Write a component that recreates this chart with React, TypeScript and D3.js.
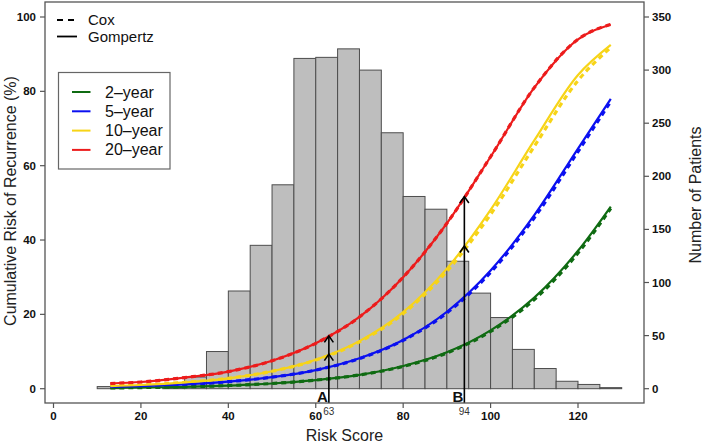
import React from "react";
import * as d3 from "d3";

// Histogram (bin start, width 5) and patient counts
const binStarts = [10, 15, 20, 25, 30, 35, 40, 45, 50, 55, 60, 65, 70, 75, 80, 85, 90, 95, 100, 105, 110, 115, 120, 125];
const binCounts = [2, 0, 0, 1, 11, 35, 92, 135, 192, 311, 312, 320, 300, 241, 181, 169, 120, 90, 67, 37, 19, 7, 4, 1];

// Risk score grid for curves
const scores = [13, 20, 30, 40, 50, 60, 70, 80, 90, 100, 110, 120, 127.5];

// Gompertz (solid) cumulative risk, %
const gomp2 = [0.2, 0.3, 0.5, 0.85, 1.4, 2.3, 3.7, 6.1, 9.8, 15.7, 24.5, 37.1, 49.0];
const gomp5 = [0.5, 0.7, 1.15, 1.9, 3.1, 5.0, 8.2, 13.1, 20.7, 31.8, 46.7, 64.6, 78.0];
const gomp10 = [0.7, 1.0, 1.7, 2.8, 4.7, 7.8, 12.8, 20.6, 32.3, 48.1, 66.8, 84.4, 92.5];
const gomp20 = [1.4, 1.8, 3.0, 4.6, 7.5, 12.2, 19.3, 30.0, 44.5, 62.4, 81.0, 94.0, 98.0];

// Cox (dashed) cumulative risk, %
const cox2 = [0.2, 0.3, 0.5, 0.85, 1.4, 2.3, 3.7, 6.0, 9.6, 15.4, 24.0, 36.5, 48.5];
const cox5 = [0.5, 0.7, 1.15, 1.9, 3.1, 5.0, 8.1, 13.0, 20.4, 31.3, 46.0, 63.8, 77.3];
const cox10 = [0.7, 1.0, 1.7, 2.8, 4.7, 7.7, 12.6, 20.2, 31.6, 46.9, 65.2, 82.9, 91.8];
const cox20 = [1.4, 1.8, 3.0, 4.6, 7.5, 12.2, 19.3, 30.0, 44.5, 62.4, 81.0, 94.0, 98.0];

const seriesNames = ["2–year", "5–year", "10–year", "20–year"];
const seriesColors = ["#0f6b12", "#0b10f0", "#f7d417", "#ec1c1c"];
const gompSeries = [gomp2, gomp5, gomp10, gomp20];
const coxSeries = [cox2, cox5, cox10, cox20];

// Marked scores A and B
const markLabels = ["A", "B"];
const markScores = [63, 94];
const markYellow = [9.3, 38.4];
const markRed = [14.2, 51.7];

const xTicks = [0, 20, 40, 60, 80, 100, 120];
const yLeftTicks = [0, 20, 40, 60, 80, 100];
const yRightTicks = [0, 50, 100, 150, 200, 250, 300, 350];

const FONT = "'Liberation Sans', Arial, Helvetica, sans-serif";

export default function App() {
  const W = 709;
  const H = 448;
  const box = { left: 45, right: 644, top: 2, bottom: 403 };

  const x = d3.scaleLinear().domain([0, 120]).range([53.5, 578]);
  const yL = d3.scaleLinear().domain([0, 100]).range([388.7, 17]);
  const yR = d3.scaleLinear().domain([0, 350]).range([388.7, 17]);

  const line = (vals: number[]) =>
    d3
      .line<number>()
      .x((_, i) => x(scores[i]))
      .y((d) => yL(d))
      .curve(d3.curveMonotoneX)(vals) || "";

  const axisColor = "#555";

  return (
    <svg
      width={W}
      height={H}
      style={{ position: "absolute", left: 0, top: 0, display: "block" }}
      fontFamily={FONT}
    >
      <rect x={0} y={0} width={W} height={H} fill="#fff" />

      {/* histogram */}
      {binStarts.map((b, i) => (
        <rect
          key={"bin" + i}
          x={x(b)}
          y={yR(binCounts[i])}
          width={x(b + 5) - x(b)}
          height={yR(0) - yR(binCounts[i])}
          fill="#bebebe"
          stroke="#4d4d4d"
          strokeWidth={1}
        />
      ))}

      {/* Cox dashed curves */}
      {coxSeries.map((s, i) => (
        <path
          key={"cox" + i}
          d={line(s)}
          fill="none"
          stroke={seriesColors[i]}
          strokeWidth={3.2}
          strokeDasharray="5,4"
        />
      ))}
      {/* Gompertz solid curves */}
      {gompSeries.map((s, i) => (
        <path
          key={"gomp" + i}
          d={line(s)}
          fill="none"
          stroke={seriesColors[i]}
          strokeWidth={2.2}
        />
      ))}

      {/* arrows */}
      {markScores.map((m, i) => {
        const xm = x(m);
        const heads = [markYellow[i], markRed[i]];
        return (
          <g key={"mark" + i}>
            <line
              x1={xm}
              x2={xm}
              y1={box.bottom}
              y2={yL(markRed[i])}
              stroke="#000"
              strokeWidth={1.6}
            />
            {heads.map((h, j) => (
              <path
                key={j}
                d={`M${xm - 4.5},${yL(h) + 6.5} L${xm},${yL(h)} L${xm + 4.5},${yL(h) + 6.5}`}
                fill="none"
                stroke="#000"
                strokeWidth={1.6}
              />
            ))}
            <text
              x={xm - 6.5}
              y={401.5}
              textAnchor="middle"
              fontSize={15}
              fontWeight="bold"
              fill="#111"
            >
              {markLabels[i]}
            </text>
            <text x={xm} y={414.5} textAnchor="middle" fontSize={10} fill="#333">
              {m}
            </text>
          </g>
        );
      })}

      {/* box */}
      <rect
        x={box.left}
        y={box.top}
        width={box.right - box.left}
        height={box.bottom - box.top}
        fill="none"
        stroke={axisColor}
        strokeWidth={1.3}
      />

      {/* x axis */}
      {xTicks.map((t) => (
        <g key={"xt" + t}>
          <line x1={x(t)} x2={x(t)} y1={box.bottom} y2={box.bottom + 5} stroke={axisColor} strokeWidth={1.2} />
          <text x={x(t)} y={419.5} textAnchor="middle" fontSize={11.5} fontWeight="bold" fill="#111">
            {t}
          </text>
        </g>
      ))}
      <text x={344.5} y={441} textAnchor="middle" fontSize={16} fill="#222">
        Risk Score
      </text>

      {/* left axis */}
      {yLeftTicks.map((t) => (
        <g key={"yl" + t}>
          <line x1={box.left - 5} x2={box.left} y1={yL(t)} y2={yL(t)} stroke={axisColor} strokeWidth={1.2} />
          <text x={36} y={yL(t) + 4} textAnchor="end" fontSize={11.5} fontWeight="bold" fill="#111">
            {t}
          </text>
        </g>
      ))}
      <text
        transform="translate(16,201) rotate(-90)"
        textAnchor="middle"
        fontSize={16}
        fill="#222"
      >
        Cumulative Risk of Recurrence (%)
      </text>

      {/* right axis */}
      {yRightTicks.map((t) => (
        <g key={"yr" + t}>
          <line x1={box.right} x2={box.right + 5} y1={yR(t)} y2={yR(t)} stroke={axisColor} strokeWidth={1.2} />
          <text x={652} y={yR(t) + 4} textAnchor="start" fontSize={11.5} fontWeight="bold" fill="#111">
            {t}
          </text>
        </g>
      ))}
      <text
        transform="translate(701,195) rotate(-90)"
        textAnchor="middle"
        fontSize={16}
        fill="#222"
      >
        Number of Patients
      </text>

      {/* legend: model type */}
      <line x1={57} x2={77} y1={20} y2={20} stroke="#000" strokeWidth={1.8} strokeDasharray="6,5" />
      <text x={88} y={25} fontSize={15} fill="#111">
        Cox
      </text>
      <line x1={57} x2={77} y1={36.5} y2={36.5} stroke="#000" strokeWidth={1.8} />
      <text x={88} y={42} fontSize={15} fill="#111">
        Gompertz
      </text>

      {/* legend: horizon */}
      <rect x={58.5} y={72.5} width={111.5} height={96.5} fill="#fff" stroke="#666" strokeWidth={1.2} />
      {seriesNames.map((n, i) => {
        const yy = 92 + i * 19.3;
        return (
          <g key={"lg" + i}>
            <line x1={72} x2={90.5} y1={yy} y2={yy} stroke={seriesColors[i]} strokeWidth={2} />
            <text x={105} y={yy + 5.5} fontSize={16} fill="#111">
              {n}
            </text>
          </g>
        );
      })}
    </svg>
  );
}
